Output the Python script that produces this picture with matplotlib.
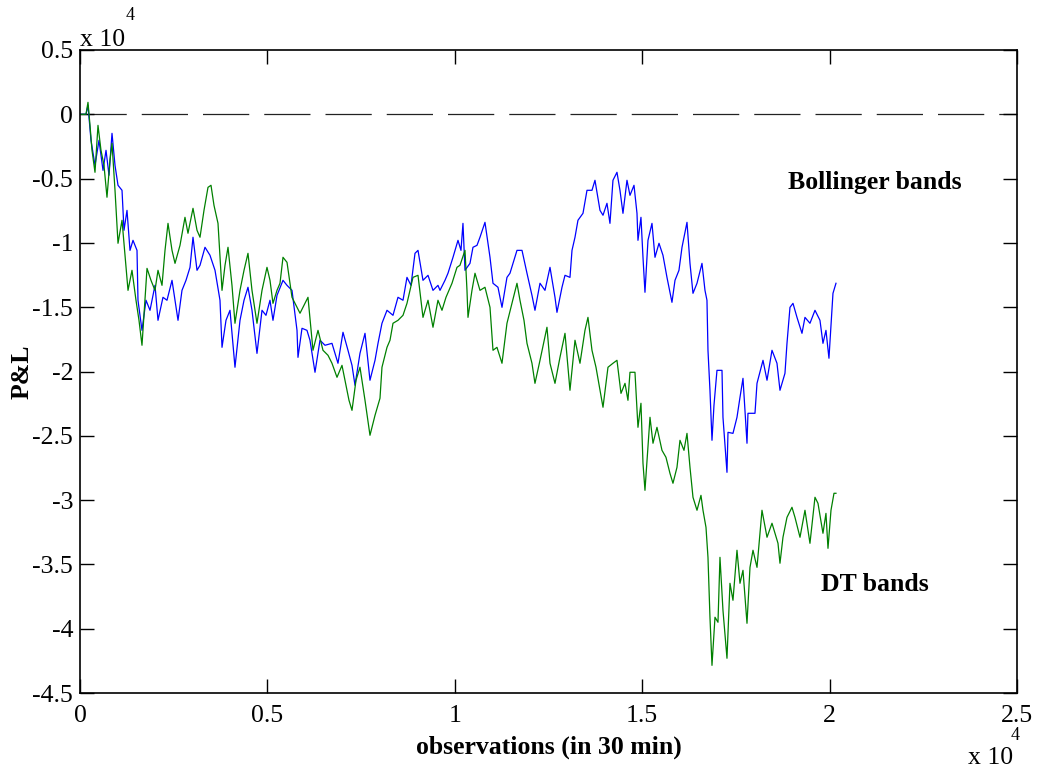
import matplotlib
matplotlib.use("Agg")
import matplotlib.pyplot as plt
from matplotlib.ticker import FuncFormatter

# ==========================
# DATA
# ==========================
bollinger_obs = [
    0, 160, 213, 293, 400, 507, 614, 694, 774, 854, 934, 1014, 1121, 1174, 1254, 1334,
    1414, 1521, 1547, 1654, 1761, 1868, 2001, 2081, 2214, 2321, 2455, 2615, 2721, 2828,
    2935, 3015, 3122, 3202, 3335, 3468, 3602, 3735, 3789, 3895, 4002, 4135, 4269, 4376,
    4482, 4589, 4722, 4856, 4962, 5069, 5149, 5256, 5416, 5523, 5656, 5790, 5816, 5923,
    6056, 6136, 6270, 6403, 6537, 6723, 6883, 7017, 7150, 7257, 7337, 7470, 7604, 7737,
    7871, 7951, 8057, 8191, 8351, 8484, 8618, 8724, 8831, 8938, 9018, 9151, 9285, 9418,
    9551, 9605, 9738, 9818, 9952, 10085, 10165, 10218, 10272, 10405, 10485, 10592, 10672,
    10805, 10939, 11019, 11152, 11259, 11392, 11472, 11579, 11659, 11793, 11926, 12059,
    12139, 12273, 12406, 12540, 12673, 12726, 12860, 12940, 13073, 13127, 13207, 13286,
    13420, 13527, 13660, 13740, 13874, 13954, 14060, 14140, 14220, 14327, 14407, 14487,
    14594, 14674, 14781, 14861, 14887, 14967, 15021, 15074, 15154, 15261, 15341, 15448,
    15554, 15661, 15794, 15875, 15981, 16062, 16195, 16275, 16355, 16462, 16595, 16675,
    16728, 16755, 16808, 16862, 16915, 16995, 17129, 17155, 17262, 17289, 17422, 17529,
    17609, 17689, 17796, 17822, 18009, 18063, 18223, 18330, 18463, 18596, 18676, 18809,
    18863, 18943, 19023, 19130, 19263, 19343, 19476, 19610, 19743, 19823, 19903, 19983,
    20090, 20170,
]
bollinger_pnl = [
    0, 0, 700, -2020, -3970, -2020, -4360, -2800, -4740, -1480, -3970, -5520, -5910, -9020,
    -7470, -10580, -9800, -10580, -14460, -16800, -14460, -15240, -13300, -16020, -14230,
    -14460, -12910, -16020, -13690, -12910, -11900, -9560, -12130, -11740, -10340, -10960,
    -12130, -14460, -18120, -16020, -15240, -19670, -16020, -14460, -13450, -15240, -18590,
    -15240, -15630, -14460, -16020, -14080, -12910, -13300, -13690, -16800, -18900, -16640,
    -16800, -17570, -20060, -17570, -17960, -17810, -19360, -16950, -18350, -19520, -21070,
    -18590, -17030, -20680, -19130, -17810, -16250, -15240, -15630, -14230, -14460, -12680,
    -13300, -10810, -10580, -12910, -12520, -13690, -13300, -13690, -12910, -12360, -11120,
    -9800, -10580, -8480, -12130, -11590, -10340, -10190, -9560, -8400, -11120, -13140,
    -13450, -15010, -12680, -12360, -11350, -10580, -10580, -12360, -14080, -15240, -13140,
    -13690, -11900, -14230, -15400, -13450, -12520, -12680, -10580, -9560, -8240, -7700,
    -5910, -5910, -5130, -7470, -7850, -6920, -8480, -5130, -4510, -5910, -7700, -5130,
    -6300, -5520, -7700, -9800, -8010, -11120, -13840, -9800, -8480, -11120, -10030, -10960,
    -12680, -14620, -12910, -12130, -10340, -8400, -11590, -13920, -13140, -11590, -13690,
    -14460, -18350, -21460, -25350, -22630, -19910, -19910, -23560, -27840, -24730, -24810,
    -23560, -22010, -20530, -25580, -23250, -23250, -20920, -19130, -20680, -18350, -19360,
    -21460, -20140, -17810, -15010, -14700, -15790, -17030, -15790, -16250, -15240, -16020,
    -17810, -16800, -18970, -13920, -13140,
]

dt_obs = [
    0, 160, 213, 267, 320, 400, 480, 560, 640, 720, 800, 854, 934, 1014, 1121, 1201, 1281,
    1387, 1494, 1574, 1654, 1734, 1788, 1894, 2001, 2081, 2188, 2268, 2348, 2455, 2535,
    2668, 2801, 2881, 3015, 3122, 3202, 3308, 3415, 3495, 3575, 3682, 3789, 3869, 3949,
    4055, 4135, 4269, 4376, 4482, 4589, 4722, 4856, 4989, 5069, 5149, 5256, 5336, 5416,
    5523, 5656, 5763, 5870, 5976, 6083, 6216, 6350, 6483, 6617, 6723, 6857, 6990, 7097,
    7177, 7257, 7364, 7470, 7604, 7737, 7871, 8004, 8057, 8191, 8271, 8351, 8484, 8618,
    8724, 8884, 9018, 9151, 9285, 9418, 9551, 9658, 9765, 9925, 10058, 10138, 10272, 10325,
    10352, 10458, 10539, 10672, 10805, 10939, 11019, 11125, 11259, 11392, 11526, 11659,
    11739, 11846, 11926, 12059, 12139, 12273, 12459, 12540, 12673, 12806, 12940, 13073,
    13207, 13340, 13473, 13553, 13660, 13767, 13874, 13954, 14087, 14220, 14327, 14434,
    14541, 14620, 14674, 14807, 14887, 14967, 15021, 15074, 15208, 15288, 15394, 15528,
    15634, 15741, 15821, 15928, 16008, 16115, 16195, 16275, 16355, 16462, 16568, 16622,
    16702, 16755, 16808, 16862, 16942, 17022, 17075, 17155, 17262, 17342, 17422, 17529,
    17609, 17689, 17796, 17876, 17956, 18063, 18196, 18330, 18463, 18623, 18676, 18756,
    18863, 18996, 19076, 19210, 19343, 19476, 19610, 19690, 19823, 19903, 19957, 20037,
    20117, 20170,
]
dt_pnl = [
    0, 0, 930, -860, -2800, -4510, -860, -2800, -3970, -6450, -3580, -2260, -5910, -10030,
    -8240, -10960, -13690, -12130, -14460, -16020, -17960, -14460, -11980, -12910, -13690,
    -12130, -13300, -10580, -8480, -10580, -11590, -10190, -8010, -9250, -7310, -9020,
    -9560, -7470, -5680, -5520, -7080, -8480, -13690, -11740, -10340, -13300, -16250,
    -13690, -12130, -10810, -13690, -16250, -13690, -11900, -12910, -14700, -13690, -13140,
    -11120, -11510, -14230, -14850, -15470, -14850, -14230, -18350, -16800, -18350, -18740,
    -19360, -20450, -19520, -21070, -22240, -23020, -20680, -19670, -22240, -24960, -23410,
    -22080, -19670, -18120, -17570, -16250, -16020, -15630, -14700, -12680, -12520, -15790,
    -14460, -16560, -14460, -15240, -14230, -13140, -11900, -11740, -10580, -13690, -15790,
    -13690, -12360, -13690, -13450, -15010, -18350, -18120, -19360, -16250, -14700, -13140,
    -14460, -16020, -17810, -19360, -20920, -19130, -16560, -19360, -20920, -18900, -17030,
    -21460, -17570, -19360, -16800, -15790, -18350, -19670, -21460, -22780, -19670, -19360,
    -19130, -21700, -20920, -22240, -20060, -20060, -24340, -22470, -27140, -29240, -23560,
    -25580, -24340, -26130, -26670, -27920, -28690, -27450, -25350, -26130, -24810, -27450,
    -29780, -30790, -29630, -30790, -32120, -34450, -39110, -42850, -39110, -39500, -34450,
    -38570, -42300, -36470, -37790, -33900, -36470, -35460, -39580, -35230, -33900, -35230,
    -30790, -32890, -31800, -33360, -34910, -32890, -31340, -30560, -31340, -32890, -30790,
    -33360, -29780, -30250, -32580, -31030, -33750, -30790, -29470, -29470,
]

x_ticks = [0, 5000, 10000, 15000, 20000, 25000]
y_ticks = [5000, 0, -5000, -10000, -15000, -20000, -25000, -30000, -35000, -40000, -45000]

# ==========================
# PLOT
# ==========================
plt.rcParams["font.family"] = ["Liberation Serif", "DejaVu Serif"]
FS = 18.5

fig = plt.figure(figsize=(10.37, 7.69), dpi=100)
ax = fig.add_axes([80 / 1037, 1 - 693 / 769, 937 / 1037, 643 / 769])

ax.plot(bollinger_obs, bollinger_pnl, color="#0000ff", lw=0.9)
ax.plot(dt_obs, dt_pnl, color="#008000", lw=0.9)
ax.axhline(0, color="#222222", lw=0.9, linestyle=(0, (37, 12)), zorder=1)

ax.set_xlim(0, 25000)
ax.set_ylim(-45000, 5000)
ax.set_xticks(x_ticks)
ax.set_yticks(y_ticks)
ax.xaxis.set_major_formatter(FuncFormatter(lambda v, _: f"{v / 1e4:g}"))
ax.yaxis.set_major_formatter(FuncFormatter(lambda v, _: f"{v / 1e4:g}"))
ax.tick_params(direction="in", length=10, width=1, top=True, right=True, labelsize=FS, pad=5)
ax.tick_params(axis="x", pad=9)
for s in ax.spines.values():
    s.set_linewidth(1.2)

ax.set_xlabel("observations (in 30 min)", fontsize=FS, fontweight="bold", labelpad=6)
ax.set_ylabel("P&L", fontsize=FS, fontweight="bold")
ax.yaxis.set_label_coords(-0.050, 0.5)

# exponent labels
fig.text(80 / 1037, 1 - 46 / 769, "x 10", fontsize=FS, ha="left", va="baseline")
fig.text(126 / 1037, 1 - 20 / 769, "4", fontsize=13, ha="left", va="baseline")
fig.text(968 / 1037, 1 - 764 / 769, "x 10", fontsize=FS, ha="left", va="baseline")
fig.text(1011 / 1037, 1 - 740 / 769, "4", fontsize=13, ha="left", va="baseline")

ax.text(21210, -5300, "Bollinger bands", fontsize=FS, fontweight="bold", ha="center", va="center")
ax.text(21210, -36600, "DT bands", fontsize=FS, fontweight="bold", ha="center", va="center")

fig.savefig("out.png", dpi=100)
